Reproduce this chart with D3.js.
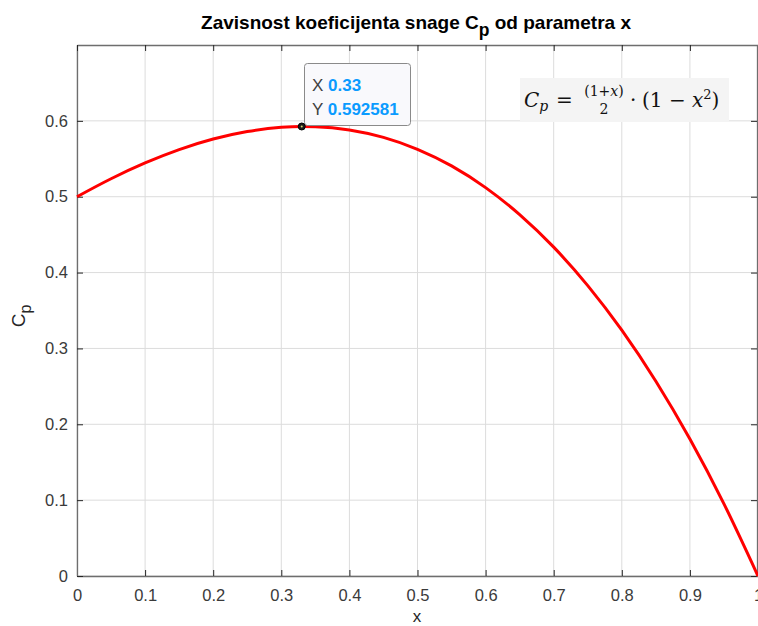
<!DOCTYPE html>
<html>
<head>
<meta charset="utf-8">
<script src="https://cdn.jsdelivr.net/npm/d3@7"></script>
<style>
  html, body { margin: 0; padding: 0; background: #fff; }
  svg { display: block; font-family: "Liberation Sans", Arial, Helvetica, sans-serif; }
</style>
</head>
<body>
<svg id="chart" width="758" height="626"></svg>
<script>
// Power coefficient Cp sampled along the parameter x
const xValues = [0, 0.05, 0.1, 0.15, 0.2, 0.25, 0.3, 0.33, 0.35, 0.4, 0.45, 0.5,
                 0.55, 0.6, 0.65, 0.7, 0.75, 0.8, 0.85, 0.9, 0.95, 1];
const cpValues = [0.5, 0.5237, 0.5445, 0.5621, 0.576, 0.5859, 0.5915, 0.592581, 0.5923, 0.588, 0.5782, 0.5625,
                  0.5406, 0.512, 0.4764, 0.4335, 0.3828, 0.324, 0.2567, 0.1805, 0.0951, 0];
const xTicks = [0, 0.1, 0.2, 0.3, 0.4, 0.5, 0.6, 0.7, 0.8, 0.9, 1];
const yTicks = [0, 0.1, 0.2, 0.3, 0.4, 0.5, 0.6];
const tipX = [0.33];
const tipY = [0.592581];

const svg = d3.select("#chart");
const plotL = 77, plotR = 758, plotT = 45, plotB = 576;

const x = d3.scaleLinear().domain([0, 1]).range([plotL, plotR]);
const y = d3.scaleLinear().domain([0, 0.7]).range([plotB, plotT]);

const axisColor = "#262626";
const boxColor = "#6e6e6e";
const gridColor = "#dcdcdc";

// grid
const grid = svg.append("g");
grid.selectAll("line.gx").data(xTicks).join("line")
  .attr("x1", d => x(d)).attr("x2", d => x(d))
  .attr("y1", plotT).attr("y2", plotB)
  .attr("stroke", gridColor).attr("stroke-width", 1);
grid.selectAll("line.gy").data(yTicks).join("line")
  .attr("y1", d => y(d)).attr("y2", d => y(d))
  .attr("x1", plotL).attr("x2", plotR)
  .attr("stroke", gridColor).attr("stroke-width", 1);

// axes with inward ticks
const xAxis = svg.append("g").attr("transform", `translate(0,${plotB})`)
  .call(d3.axisBottom(x).tickValues(xTicks).tickSizeInner(-6).tickSizeOuter(0)
        .tickPadding(13).tickFormat(d => d3.format("")(d)));
const yAxis = svg.append("g").attr("transform", `translate(${plotL},0)`)
  .call(d3.axisLeft(y).tickValues(yTicks).tickSizeInner(-6).tickSizeOuter(0)
        .tickPadding(9).tickFormat(d => d3.format("")(d)));
const xTop = svg.append("g").attr("transform", `translate(0,${plotT})`)
  .call(d3.axisTop(x).tickValues(xTicks).tickSizeInner(-6).tickSizeOuter(0).tickFormat(""));
const yRight = svg.append("g").attr("transform", `translate(${plotR - 1},0)`)
  .call(d3.axisRight(y).tickValues(yTicks).tickSizeInner(-6).tickSizeOuter(0).tickFormat(""));

[xAxis, yAxis, xTop, yRight].forEach(g => {
  g.select(".domain").attr("stroke", boxColor).attr("stroke-width", 1.3);
  g.selectAll(".tick line").attr("stroke", axisColor).attr("stroke-width", 1);
  g.selectAll(".tick text").attr("fill", "#3a3a3a").style("font-size", "16.5px")
    .style("font-family", "'Liberation Sans', Arial, sans-serif");
});

// curve
const line = d3.line()
  .x((d, i) => x(xValues[i]))
  .y(d => y(d))
  .curve(d3.curveMonotoneX);
svg.append("path")
  .datum(cpValues)
  .attr("d", line)
  .attr("fill", "none")
  .attr("stroke", "#ff0000")
  .attr("stroke-width", 3);

// title
const title = svg.append("text")
  .attr("x", 416).attr("y", 29)
  .attr("text-anchor", "middle")
  .attr("fill", "#000")
  .style("font-size", "19px").style("font-weight", "bold");
title.append("tspan").text("Zavisnost koeficijenta snage C");
title.append("tspan").attr("dy", 7).style("font-size", "17.5px").text("p");
title.append("tspan").attr("dy", -7).text(" od parametra x");

// axis labels
svg.append("text")
  .attr("x", 417).attr("y", 622)
  .attr("text-anchor", "middle")
  .attr("fill", axisColor)
  .style("font-size", "17px")
  .text("x");
const ylab = svg.append("text")
  .attr("transform", "translate(25,316) rotate(-90)")
  .attr("text-anchor", "middle")
  .attr("fill", axisColor)
  .style("font-size", "19px");
ylab.append("tspan").text("C");
ylab.append("tspan").attr("dy", 6).style("font-size", "16px").text("p");

// formula annotation
const fg = svg.append("g");
fg.append("rect")
  .attr("x", 520).attr("y", 78).attr("width", 209).attr("height", 44)
  .attr("fill", "#f4f4f4");
const serif = "'DejaVu Serif', 'Liberation Serif', serif";
const mainTxt = fg.append("text").attr("y", 107).attr("fill", "#111")
  .style("font-family", serif).style("font-size", "20px");
mainTxt.append("tspan").attr("x", 524).style("font-style", "italic").text("C");
mainTxt.append("tspan").attr("dy", 4).style("font-size", "14px").style("font-style", "italic").text("p");
mainTxt.append("tspan").attr("x", 556).attr("dy", -4).text("=");
fg.append("text").attr("x", 604).attr("y", 96).attr("text-anchor", "middle")
  .attr("fill", "#111").style("font-family", serif).style("font-size", "14px")
  .html("(1+<tspan font-style='italic'>x</tspan>)");
fg.append("text").attr("x", 604).attr("y", 114).attr("text-anchor", "middle")
  .attr("fill", "#111").style("font-family", serif).style("font-size", "14px").text("2");
const rest = fg.append("text").attr("y", 107).attr("fill", "#111")
  .style("font-family", serif).style("font-size", "20px");
rest.append("tspan").attr("x", 630).text("·");
rest.append("tspan").attr("x", 642).text("(1 − ");
rest.append("tspan").style("font-style", "italic").text("x");
rest.append("tspan").attr("dy", -8).style("font-size", "13px").text("2");
rest.append("tspan").attr("dy", 8).text(")");

// data tip
const tg = svg.append("g");
tg.append("rect")
  .attr("x", 304.5).attr("y", 63.5).attr("width", 106).attr("height", 62).attr("rx", 3)
  .attr("fill", "#f9f9fc").attr("stroke", "#8a8a8a").attr("stroke-width", 1);
const tipLine = (label, val, yy) => {
  const t = tg.append("text").attr("x", 312).attr("y", yy).style("font-size", "17px");
  t.append("tspan").attr("fill", "#404040").text(label + " ");
  t.append("tspan").attr("fill", "#0a9bff").style("font-weight", "bold").text(val);
};
tipLine("X", d3.format("")(tipX[0]), 91);
tipLine("Y", d3.format("")(tipY[0]), 115);
tg.append("circle")
  .attr("cx", x(tipX[0])).attr("cy", y(tipY[0])).attr("r", 3.5)
  .attr("fill", "#1a1a1a").attr("stroke", "#000").attr("stroke-width", 1);
tg.append("circle")
  .attr("cx", x(tipX[0])).attr("cy", y(tipY[0])).attr("r", 1)
  .attr("fill", "#d8d870");
</script>
</body>
</html>
